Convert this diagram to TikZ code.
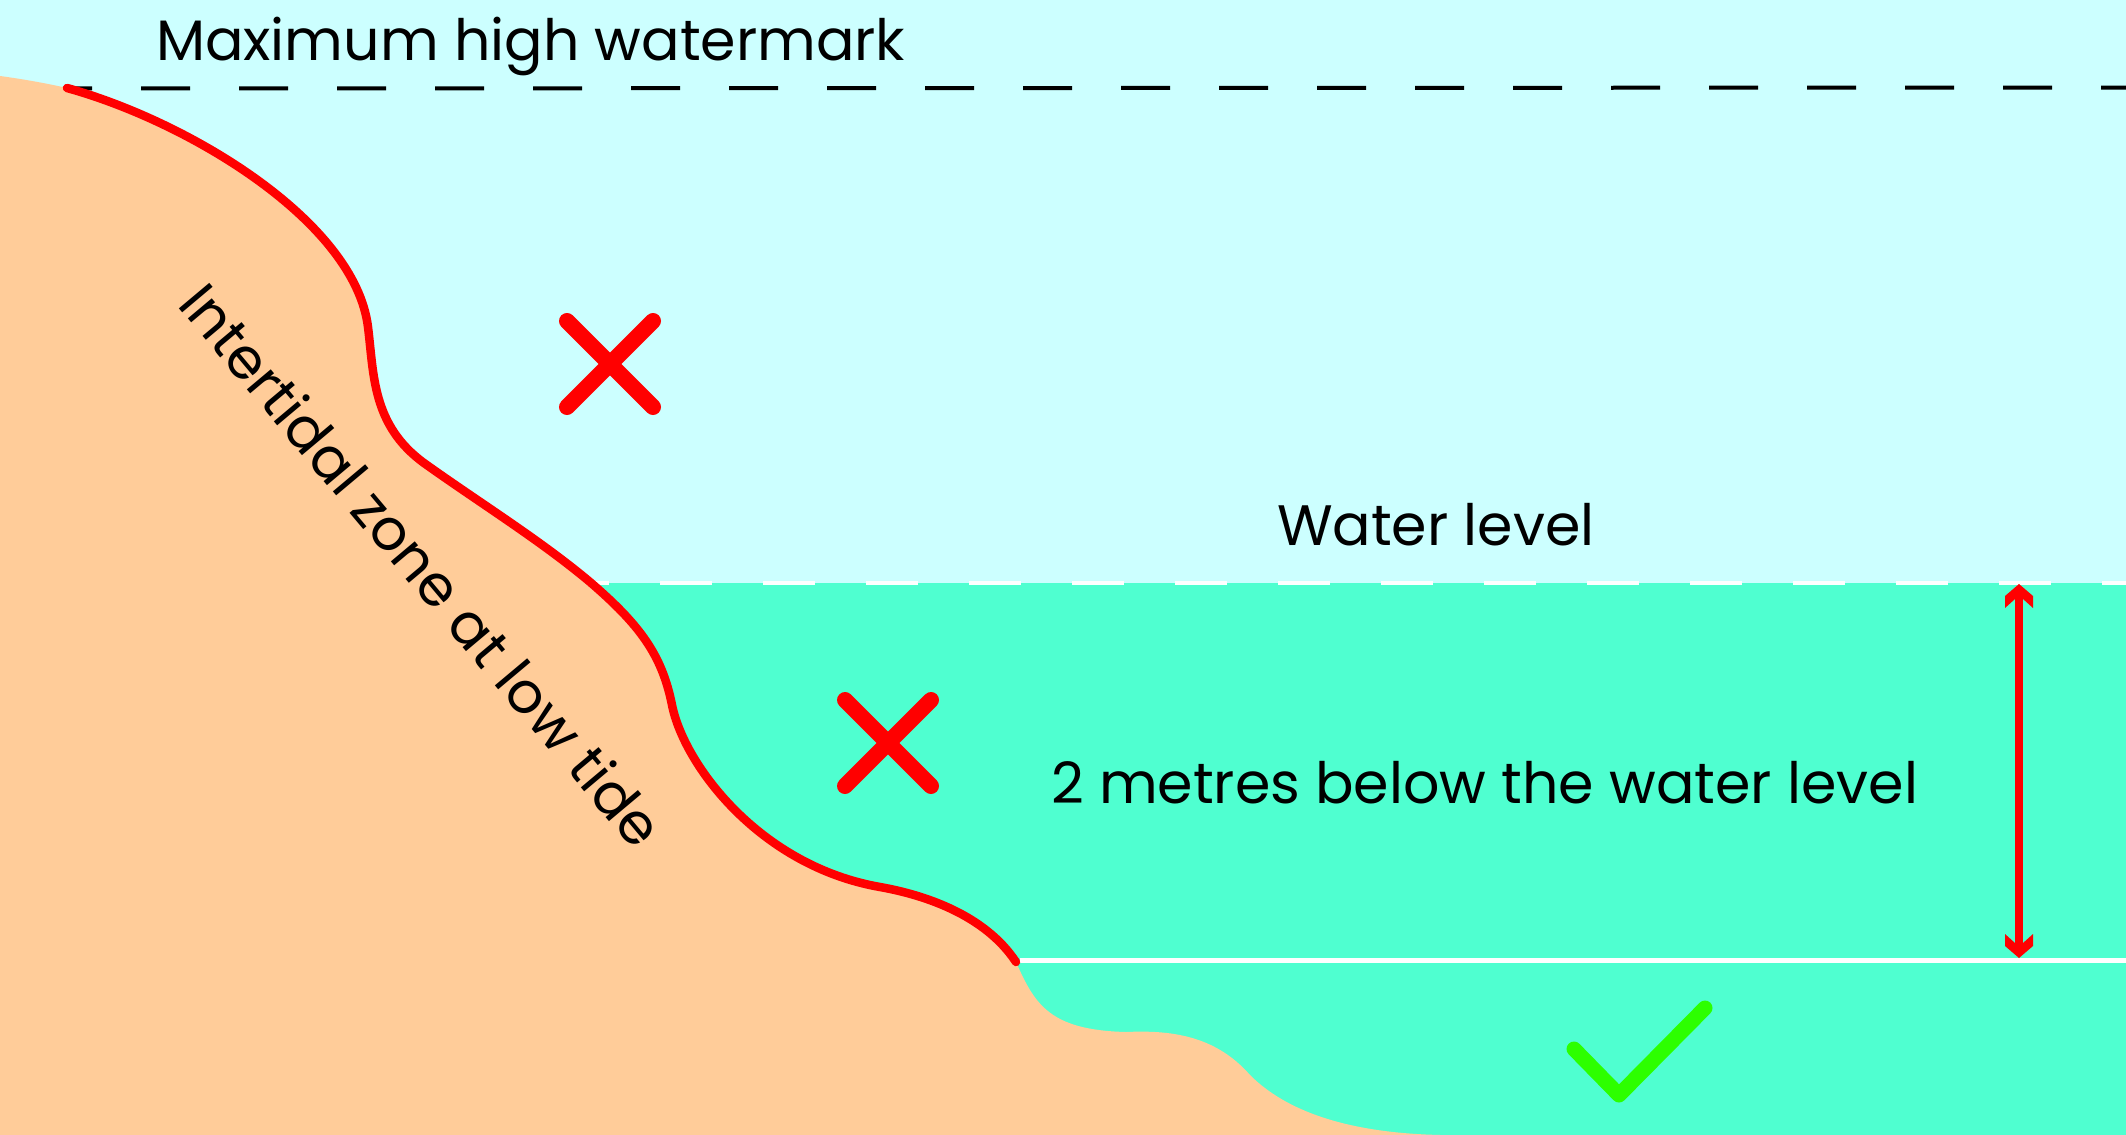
\documentclass[tikz,border=0pt]{standalone}
\usepackage{fontspec}
\setmainfont{Poppins}
\definecolor{skyw}{HTML}{CCFFFF}
\definecolor{seaw}{HTML}{4FFFD0}
\definecolor{sandc}{HTML}{FFCC99}
\definecolor{redc}{HTML}{FF0000}
\definecolor{greenc}{HTML}{2DFF00}
\def\shorepath{(67,88) .. controls (190,122) and (355,222) .. (368,327)
  .. controls (374,375) and (372,425) .. (424,463)
  .. controls (480,503) and (540,540) .. (590,582)
  .. controls (640,625) and (662,655) .. (672,705)
  .. controls (684,765) and (760,866) .. (880,887)
  .. controls (925,895) and (985,915) .. (1016,962)}
\tikzset{
  redline/.style={draw=redc,line width=8.5pt,line cap=round,line join=round},
  crossline/.style={draw=redc,line width=16pt,line cap=round},
  tickline/.style={draw=greenc,line width=15pt,line cap=round,line join=round},
  lbl/.style={inner sep=0pt,outer sep=0pt,text=black,font=\fontsize{57}{66}\selectfont},
  pics/chevron/.style={code={
    \fill[redc] (0,0) -- (14,12) -- (14,24) -- (4,15) -- (-4,15) -- (-14,24) -- (-14,12) -- cycle;
  }},
  pics/crossmark/.style={code={
    \draw[crossline] (-43,-43) -- (43,43);
    \draw[crossline] (-43,43) -- (43,-43);
  }}
}
\begin{document}
\begin{tikzpicture}[x=1pt,y=-1pt]
\useasboundingbox (0,0) rectangle (2126,1135);
% water
\fill[skyw] (0,0) rectangle (2126,583);
\fill[seaw] (560,583) rectangle (2126,1135);
% sand
\fill[sandc] (0,76) .. controls (22,79) and (45,83) .. \shorepath
  .. controls (1035,1005) and (1050,1030) .. (1126,1032)
  .. controls (1170,1030) and (1215,1035) .. (1250,1075)
  .. controls (1285,1110) and (1345,1133) .. (1441,1135)
  -- (0,1135) -- cycle;
% lines
\draw[black,line width=4pt,dash pattern=on 49pt off 49pt,dash phase=24pt] (67,88.5) -- (2126,87.5);
\draw[white,line width=4.5pt,dash pattern=on 51.5pt off 51.5pt,dash phase=33pt] (590,583) -- (2126,583);
\draw[white,line width=4.5pt] (1020,960.5) -- (2126,960.5);
% red shore
\draw[redline] \shorepath;
% depth arrow
\coordinate (atop) at (2019,584);
\coordinate (abot) at (2019,958);
\draw[draw=redc,line width=8pt] ([yshift=-8pt]atop) -- ([yshift=8pt]abot);
\pic at (atop) {chevron};
\pic[yscale=-1] at (abot) {chevron};
% marks
\pic at (610,364) {crossmark};
\pic at (888,743) {crossmark};
\draw[tickline] (1574,1049) -- (1619,1095) -- (1705,1008);
% labels
\node[lbl,anchor=base west] (maxhw) at (156,60) {Maximum high watermark};
\node[lbl,anchor=base west] (wl) at (1277,545) {Water level};
\node[lbl,anchor=base west] (twom) at (1051,803) {2 metres below the water level};
\node[lbl,anchor=base west,rotate=-50] (inter) at (176,305) {Intertidal zone at low tide};
\end{tikzpicture}
\end{document}
